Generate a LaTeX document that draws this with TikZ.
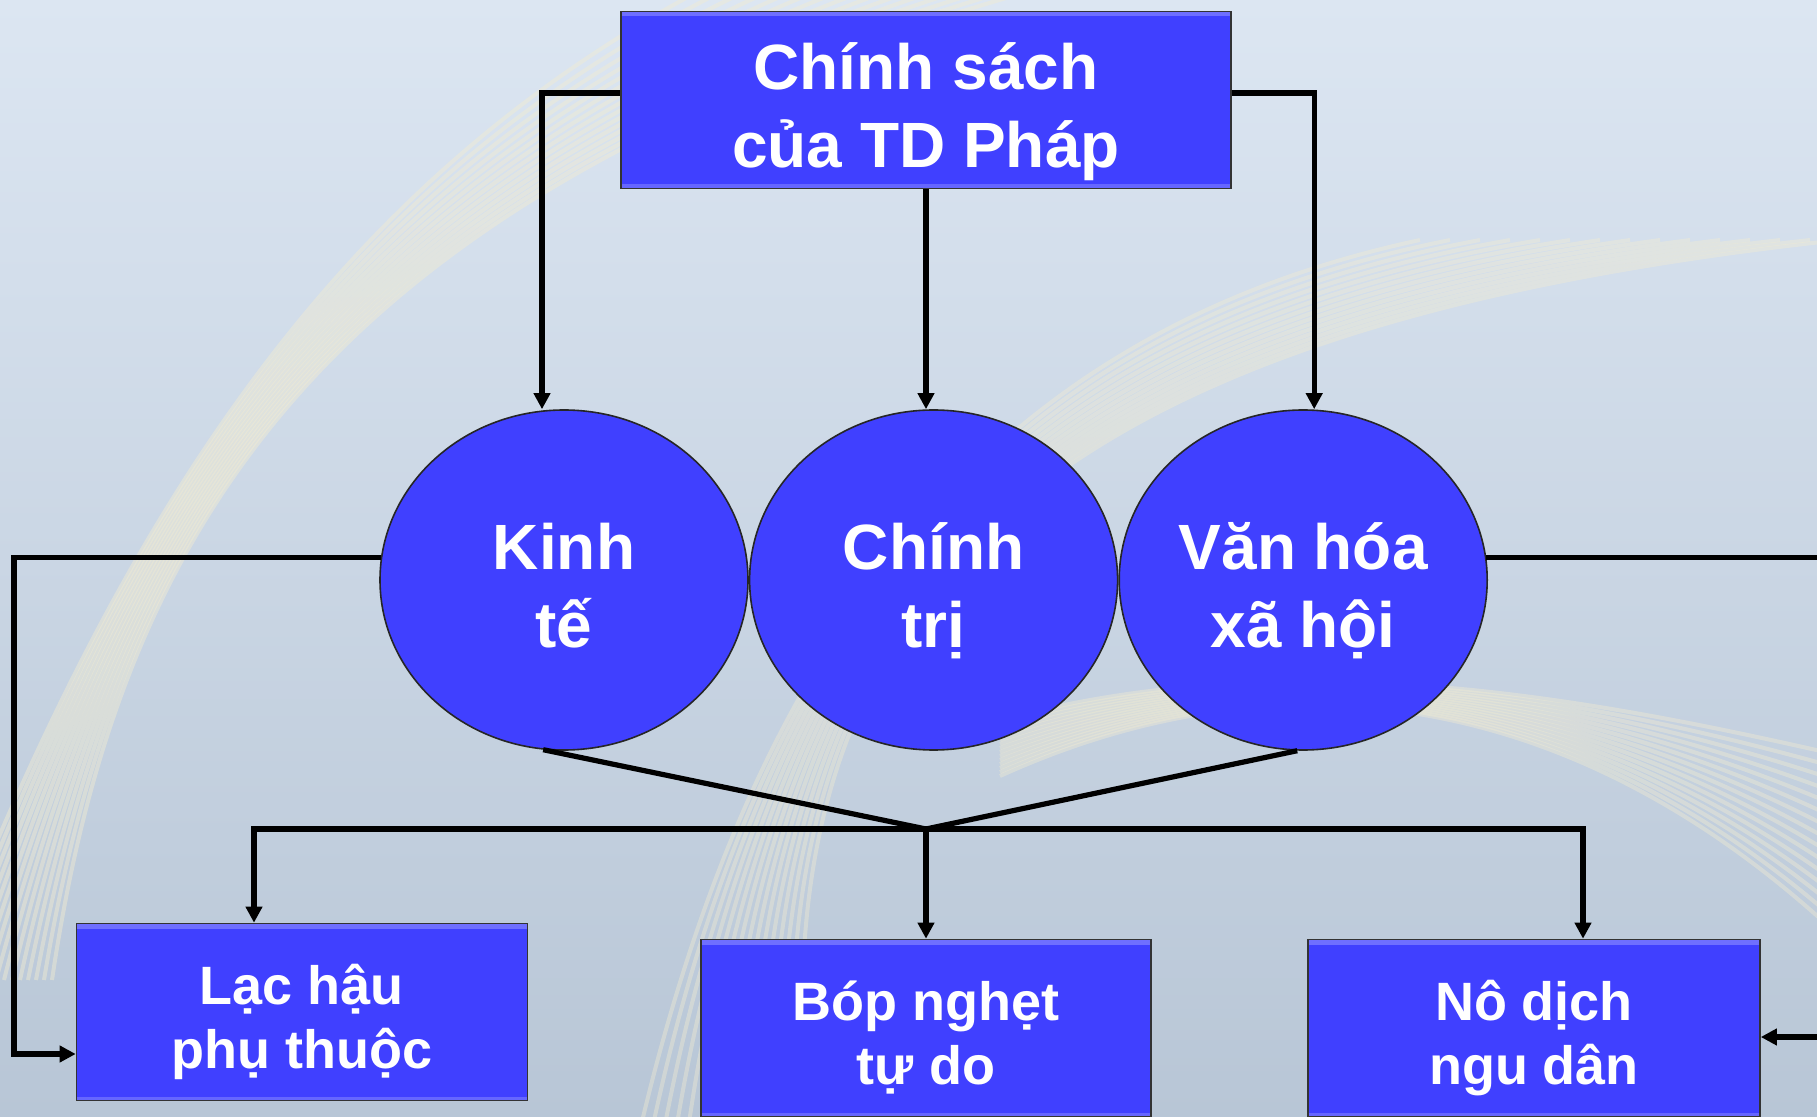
\documentclass[tikz,border=0pt]{standalone}
\usepackage{fontspec}
\setmainfont{Liberation Sans}
\usetikzlibrary{shapes,calc,positioning,arrows.meta}
\definecolor{boxblue}{RGB}{64,64,255}
\definecolor{skytop}{RGB}{220,230,242}
\definecolor{skybot}{RGB}{184,198,214}
\definecolor{straw}{RGB}{242,236,210}
% two centred lines with fixed baselines
\newcommand{\bigtwo}[2]{\rule{0pt}{37.3pt}#1\\ #2\rule[-9pt]{0pt}{0pt}}
\newcommand{\smalltwo}[2]{\rule{0pt}{34.5pt}#1\\ #2\rule[-10pt]{0pt}{0pt}}

\begin{document}
\begin{tikzpicture}[x=0.5pt,y=-0.5pt,
  every node/.append style={text=white,align=center},
  link/.style={line width=2.6pt,black},
  arr/.style={link,-{Triangle[length=8pt,width=8pt]}}]
  \tikzstyle{box} = [rectangle,draw=black!80,line width=0.8pt,fill=boxblue,inner sep=0pt,minimum height=88.5pt,
    path picture={\fill[white,opacity=0.25] (path picture bounding box.north west) rectangle ([yshift=-2.5pt]path picture bounding box.north east);
      \fill[white,opacity=0.2] (path picture bounding box.south west) rectangle ([yshift=2pt]path picture bounding box.south east);}]
  \tikzstyle{oval} = [ellipse,draw=black!85,line width=0.8pt,fill=boxblue,inner sep=0pt,
    minimum width=184pt,minimum height=170pt,font=\fontsize{32}{38.8}\selectfont\bfseries]
  \useasboundingbox (0,0) rectangle (1817,1117);
  \clip (0,0) rectangle (1817,1117);
  % background
  \shade[top color=skytop,bottom color=skybot] (0,0) rectangle (1817,1117);
  \foreach \i in {0,...,14} {
    \draw[straw,opacity=0.45,line width=2pt] (-60+8*\i,980) .. controls (120,520) and (330,180) .. (720+25*\i,-20);
    \draw[straw,opacity=0.4,line width=2pt] (640+12*\i,1130) .. controls (760,620) and (1000,330) .. (1420+30*\i,240);
    \draw[straw,opacity=0.4,line width=2pt] (1000,720+4*\i) .. controls (1300,640) and (1600,700) .. (1860,760+14*\i);
  }
  % nodes
  \node (cs) [box,minimum width=305pt,font=\fontsize{32}{38.8}\selectfont\bfseries] at (926,100) {\bigtwo{Chính sách}{của TD Pháp}};
  \node (kt) [oval] at (564,580) {\bigtwo{Kinh}{tế}};
  \node (ct) [oval,right=0pt of kt] {\bigtwo{Chính}{trị}};
  \node (vh) [oval,right=0pt of ct] {\bigtwo{Văn hóa}{xã hội}};
  \node (lh) [box,minimum width=225.5pt,font=\fontsize{27}{32}\selectfont\bfseries] at (302,1012) {\smalltwo{Lạc hậu}{phụ thuộc}};
  \node (bn) [box,minimum width=225pt,font=\fontsize{27}{32}\selectfont\bfseries] at (926,1028) {\smalltwo{Bóp nghẹt}{tự do}};
  \node (nd) [box,minimum width=226pt,font=\fontsize{27}{32}\selectfont\bfseries] at (1534,1028) {\smalltwo{Nô dịch}{ngu dân}};
  % connectors
  \coordinate (mid) at (926,829);
  \coordinate (lft) at (14,1054);
  \coordinate (rgt) at (1860,1037);
  \draw[arr] ($(cs.west)+(0,-7)$) -| ($(kt.north)+(-22,0)$);
  \draw[arr] (cs.south) -- (cs.south |- ct.north);
  \draw[arr] ($(cs.east)+(0,-7)$) -| ($(vh.north)+(11,0)$);
  \draw[arr] (kt.173) -| (lft) -- (lft -| lh.west);
  \draw[arr] (vh.7) -| (rgt) -- (rgt -| nd.east);
  \draw[link] (kt.263) -- (mid) -- (vh.268);
  \draw[arr] (mid) -| ($(lh.north)+(-48,0)$);
  \draw[arr] (mid) -| ($(nd.north)+(49,0)$);
  \draw[arr] (mid) -- (bn.north);
\end{tikzpicture}
\end{document}
